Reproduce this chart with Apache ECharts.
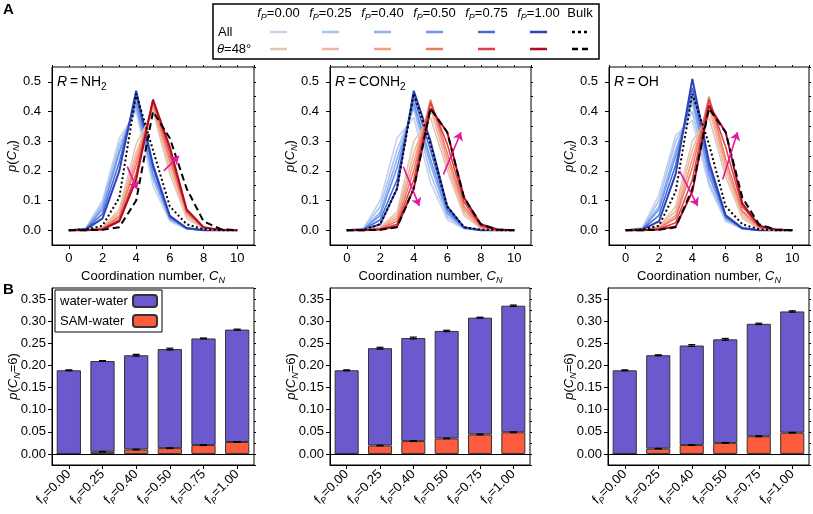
<!DOCTYPE html>
<html><head><meta charset="utf-8">
<script src="https://cdn.jsdelivr.net/npm/echarts@6/dist/echarts.min.js"></script>
<style>html,body{margin:0;padding:0;background:#fff}#c{width:813px;height:514px}</style>
</head><body><div id="c"></div>
<script>
// ---------------- DATA ----------------
const CN = [0,1,2,3,4,5,6,7,8,9,10];
const FP_LABELS = ['0.00','0.25','0.40','0.50','0.75','1.00'];
const BLUE = ['#c8d2ea','#a8c4f2','#8cb2ef','#6c97e9','#4a6bd8','#2c42bb'];
const RED  = ['#dcc8bb','#f4b59c','#f39f83','#eb7c62','#d8424a','#b20b25'];

// Panel A, R = NH2 (rows: fP = 0.00 .. 1.00)
const NH2_ALL = [
  [0,0.006,0.10,0.31,0.40,0.15,0.030,0.004,0,0,0],
  [0,0.005,0.09,0.29,0.41,0.17,0.035,0.005,0,0,0],
  [0,0.004,0.08,0.27,0.42,0.18,0.038,0.005,0,0,0],
  [0,0.004,0.07,0.26,0.43,0.19,0.040,0.006,0,0,0],
  [0,0.003,0.055,0.23,0.45,0.21,0.045,0.006,0,0,0],
  [0,0.002,0.04,0.20,0.47,0.22,0.048,0.007,0,0,0]
];
const NH2_THETA = [
  [0,0,0.010,0.07,0.29,0.40,0.19,0.040,0.005,0,0],
  [0,0,0.008,0.06,0.26,0.41,0.21,0.050,0.007,0,0],
  [0,0,0.006,0.05,0.24,0.42,0.23,0.055,0.008,0,0],
  [0,0,0.005,0.045,0.22,0.43,0.24,0.060,0.009,0,0],
  [0,0,0.003,0.035,0.19,0.44,0.26,0.065,0.010,0,0],
  [0,0,0.002,0.03,0.17,0.44,0.28,0.070,0.010,0.001,0]
];
const NH2_BULK_ALL   = [0,0.002,0.015,0.11,0.46,0.27,0.08,0.02,0.003,0,0];
const NH2_BULK_THETA = [0,0,0.001,0.01,0.10,0.40,0.31,0.14,0.03,0.004,0];

// Panel A, R = CONH2
const CONH2_ALL = [
  [0,0.006,0.10,0.31,0.38,0.16,0.035,0.005,0,0,0],
  [0,0.005,0.08,0.27,0.41,0.19,0.045,0.006,0,0,0],
  [0,0.004,0.06,0.24,0.42,0.22,0.055,0.007,0,0,0],
  [0,0.003,0.05,0.21,0.43,0.24,0.060,0.008,0,0,0],
  [0,0.002,0.035,0.17,0.45,0.27,0.070,0.009,0,0,0],
  [0,0.001,0.02,0.14,0.47,0.30,0.080,0.010,0,0,0]
];
const CONH2_THETA = [
  [0,0,0.010,0.06,0.30,0.38,0.20,0.050,0.006,0,0],
  [0,0,0.008,0.05,0.26,0.41,0.22,0.060,0.008,0,0],
  [0,0,0.006,0.04,0.23,0.43,0.24,0.070,0.010,0,0],
  [0,0,0.005,0.03,0.20,0.44,0.26,0.080,0.012,0,0],
  [0,0,0.003,0.02,0.17,0.43,0.29,0.095,0.015,0,0],
  [0,0,0.002,0.012,0.14,0.41,0.33,0.11,0.020,0.002,0]
];
const CONH2_BULK_ALL   = [0,0.001,0.02,0.14,0.46,0.29,0.08,0.01,0.002,0,0];
const CONH2_BULK_THETA = [0,0,0.001,0.01,0.14,0.41,0.33,0.11,0.02,0.002,0];

// Panel A, R = OH
const OH_ALL = [
  [0,0.008,0.12,0.32,0.37,0.15,0.030,0.004,0,0,0],
  [0,0.006,0.10,0.30,0.40,0.16,0.035,0.005,0,0,0],
  [0,0.005,0.08,0.27,0.43,0.18,0.040,0.005,0,0,0],
  [0,0.004,0.07,0.25,0.45,0.19,0.042,0.006,0,0,0],
  [0,0.003,0.05,0.22,0.48,0.21,0.046,0.006,0,0,0],
  [0,0.002,0.03,0.19,0.51,0.23,0.050,0.007,0,0,0]
];
const OH_THETA = [
  [0,0,0.012,0.08,0.30,0.38,0.18,0.040,0.005,0,0],
  [0,0,0.010,0.065,0.27,0.41,0.20,0.050,0.006,0,0],
  [0,0,0.008,0.05,0.24,0.43,0.22,0.060,0.008,0,0],
  [0,0,0.006,0.04,0.21,0.45,0.24,0.065,0.010,0,0],
  [0,0,0.004,0.025,0.17,0.44,0.28,0.080,0.013,0,0],
  [0,0,0.002,0.012,0.13,0.42,0.33,0.090,0.015,0.002,0]
];
const OH_BULK_ALL   = [0,0.002,0.015,0.13,0.46,0.29,0.08,0.02,0.003,0,0];
const OH_BULK_THETA = [0,0,0.001,0.01,0.14,0.41,0.33,0.11,0.02,0.002,0];

// trend arrows (data coordinates: [CN, p])
const ARROWS_NH2   = [[[3.47,0.214],[4.06,0.138]], [[5.64,0.200],[6.54,0.250]]];
const ARROWS_CONH2 = [[[3.38,0.214],[4.33,0.082]], [[5.77,0.188],[6.82,0.330]]];
const ARROWS_OH    = [[[3.23,0.200],[4.32,0.082]], [[5.82,0.171],[6.71,0.330]]];

// Panel B: p(CN=6) totals and SAM-water part
const TOTAL_NH2   = [0.189,0.210,0.223,0.237,0.261,0.281];
const SAM_NH2     = [0,0.005,0.010,0.013,0.020,0.027];
const ERRT_NH2    = [0.001,0.001,0.002,0.002,0.001,0.001];
const ERRS_NH2    = [0,0.0006,0.0006,0.0006,0.0008,0.0008];
const TOTAL_CONH2 = [0.189,0.239,0.262,0.278,0.308,0.335];
const SAM_CONH2   = [0,0.019,0.029,0.035,0.044,0.049];
const ERRT_CONH2  = [0.001,0.002,0.002,0.0015,0.001,0.0015];
const ERRS_CONH2  = [0,0.0006,0.0006,0.0006,0.0008,0.001];
const TOTAL_OH    = [0.189,0.223,0.245,0.259,0.294,0.322];
const SAM_OH      = [0,0.012,0.020,0.025,0.040,0.048];
const ERRT_OH     = [0.001,0.001,0.002,0.002,0.0015,0.0015];
const ERRS_OH     = [0,0.0006,0.0006,0.0006,0.001,0.0008];

// ---------------- BUILD ----------------
const FF = '"Liberation Sans", Arial, sans-serif';
const RICH = {
  n:{fontSize:13,fontFamily:FF,color:'#000',lineHeight:18,verticalAlign:'middle'},
  i:{fontSize:13,fontFamily:FF,fontStyle:'italic',color:'#000',lineHeight:18,verticalAlign:'middle'},
  s:{fontSize:9,fontFamily:FF,fontStyle:'italic',color:'#000',lineHeight:18,verticalAlign:'bottom'},
  u:{fontSize:9,fontFamily:FF,color:'#000',lineHeight:18,verticalAlign:'bottom'}
};
const PURPLE = '#6a5acd', SAMRED = '#fd5b3d';

const gridsA = [{left:52,width:202},{left:330,width:201},{left:609,width:200}];
const gridsB = [{left:52,width:202},{left:330,width:200},{left:608,width:201}];
const grid = [];
gridsA.forEach(g=>grid.push({left:g.left,width:g.width,top:67,height:178,show:true,borderColor:'#000',borderWidth:1}));
gridsB.forEach(g=>grid.push({left:g.left,width:g.width,top:288,height:177,show:true,borderColor:'#000',borderWidth:1}));

const xAxis = [], yAxis = [], xIdx = [], yIdx = [];
const AX = {color:'#000',width:1};
function addA(g){
  xIdx[g] = xAxis.length;
  xAxis.push({type:'value',gridIndex:g,min:-1,max:11,
    axisLine:{show:true,onZero:false,lineStyle:AX},
    axisTick:{show:true,customValues:[0,2,4,6,8,10],length:4,lineStyle:AX},
    axisLabel:{customValues:[0,2,4,6,8,10],fontSize:13,fontFamily:FF,color:'#000',margin:7},
    splitLine:{show:false},
    name:'{n|Coordination number, }{i|C}{s|N}',nameLocation:'middle',nameGap:22,nameMoveOverlap:false,
    nameTextStyle:{rich:RICH}});
  xAxis.push({type:'value',gridIndex:g,min:-1,max:11,interval:1,
    axisLine:{show:false,onZero:false},axisTick:{show:true,length:2,lineStyle:AX},
    axisLabel:{show:false},splitLine:{show:false}});
  yIdx[g] = yAxis.length;
  yAxis.push({type:'value',gridIndex:g,min:-0.05,max:0.55,
    axisLine:{show:true,onZero:false,lineStyle:AX},
    axisTick:{show:true,customValues:[0,0.1,0.2,0.3,0.4,0.5],length:4,lineStyle:AX},
    axisLabel:{customValues:[0,0.1,0.2,0.3,0.4,0.5],formatter:v=>v.toFixed(1),fontSize:13,fontFamily:FF,color:'#000',margin:11},
    splitLine:{show:false},
    name:'{i|p}{n|(}{i|C}{s|N}{n|)}',nameLocation:'middle',nameGap:31,nameRotate:90,nameMoveOverlap:false,
    nameTextStyle:{rich:RICH}});
  yAxis.push({type:'value',gridIndex:g,min:-0.05,max:0.55,interval:0.05,
    axisLine:{show:false,onZero:false},axisTick:{show:true,length:2,lineStyle:AX},
    axisLabel:{show:false},splitLine:{show:false}});
}
const B_MAJ = [0,0.05,0.1,0.15,0.2,0.25,0.3,0.35];
function addB(g){
  xIdx[g] = xAxis.length;
  xAxis.push({type:'category',gridIndex:g,data:FP_LABELS,
    axisLine:{show:true,onZero:false,lineStyle:AX},
    axisTick:{show:true,alignWithLabel:true,length:4,lineStyle:AX},
    axisLabel:{interval:0,rotate:45,margin:7,formatter:v=>'{n|f}{s|P}{n|='+v+'}',rich:RICH},
    splitLine:{show:false}});
  xAxis.push({type:'category',gridIndex:g,data:FP_LABELS,show:false});
  yIdx[g] = yAxis.length;
  yAxis.push({type:'value',gridIndex:g,min:-0.025,max:0.375,
    axisLine:{show:true,onZero:false,lineStyle:AX},
    axisTick:{show:true,customValues:B_MAJ,length:4,lineStyle:AX},
    axisLabel:{customValues:B_MAJ,formatter:v=>v.toFixed(2),fontSize:13,fontFamily:FF,color:'#000',margin:6},
    splitLine:{show:false},
    name:'{i|p}{n|(}{i|C}{s|N}{n|=6)}',nameLocation:'middle',nameGap:30,nameRotate:90,nameMoveOverlap:false,
    nameTextStyle:{rich:RICH}});
  yAxis.push({type:'value',gridIndex:g,min:-0.025,max:0.375,interval:0.025,
    axisLine:{show:false,onZero:false},axisTick:{show:true,length:2,lineStyle:AX},
    axisLabel:{show:false},splitLine:{show:false}});
}
[0,1,2].forEach(addA); [3,4,5].forEach(addB);

const series = [];
const panelsA = [
  {all:NH2_ALL,th:NH2_THETA,ba:NH2_BULK_ALL,bt:NH2_BULK_THETA,ar:ARROWS_NH2},
  {all:CONH2_ALL,th:CONH2_THETA,ba:CONH2_BULK_ALL,bt:CONH2_BULK_THETA,ar:ARROWS_CONH2},
  {all:OH_ALL,th:OH_THETA,ba:OH_BULK_ALL,bt:OH_BULK_THETA,ar:ARROWS_OH}
];
const pts = arr => CN.map((x,i)=>[x,arr[i]]);
panelsA.forEach((p,g)=>{
  const base = {type:'line',xAxisIndex:xIdx[g],yAxisIndex:yIdx[g],symbol:'none',silent:true};
  p.all.forEach((arr,k)=>series.push(Object.assign({},base,{name:'all'+g+k,data:pts(arr),z:2,lineStyle:{color:BLUE[k],width:k===5?2:1.6}})));
  p.th.forEach((arr,k)=>series.push(Object.assign({},base,{name:'th'+g+k,data:pts(arr),z:3,lineStyle:{color:RED[k],width:k===5?2:1.6}})));
  series.push(Object.assign({},base,{name:'bulkAll'+g,data:pts(p.ba),z:4,lineStyle:{color:'#000',width:2,type:[2,2.5]}}));
  series.push(Object.assign({},base,{name:'bulkTh'+g,data:pts(p.bt),z:4,lineStyle:{color:'#000',width:2,type:[7,4]}}));
  series.push({type:'lines',coordinateSystem:'cartesian2d',xAxisIndex:xIdx[g],yAxisIndex:yIdx[g],silent:true,z:6,
    symbol:['none','arrow'],symbolSize:[1,8],
    lineStyle:{color:'#e5179a',width:1.6,opacity:1},
    data:p.ar.map(a=>({coords:a}))});
});

const panelsB = [
  {tot:TOTAL_NH2,sam:SAM_NH2,et:ERRT_NH2,es:ERRS_NH2},
  {tot:TOTAL_CONH2,sam:SAM_CONH2,et:ERRT_CONH2,es:ERRS_CONH2},
  {tot:TOTAL_OH,sam:SAM_OH,et:ERRT_OH,es:ERRS_OH}
];
function errSeries(g,vals,errs){
  return {type:'custom',xAxisIndex:xIdx[g],yAxisIndex:yIdx[g],silent:true,z:10,
    data:vals.map((v,i)=>[i,v,errs[i]]).filter(d=>d[2]>0),
    renderItem:(params,api)=>{
      const x=api.value(0),y=api.value(1),e=api.value(2);
      const t=api.coord([x,y+e]), b=api.coord([x,y-e]);
      const w=3.5, st={stroke:'#000',lineWidth:1.2};
      return {type:'group',children:[
        {type:'line',shape:{x1:t[0],y1:t[1],x2:b[0],y2:b[1]},style:st},
        {type:'line',shape:{x1:t[0]-w,y1:t[1],x2:t[0]+w,y2:t[1]},style:st},
        {type:'line',shape:{x1:b[0]-w,y1:b[1],x2:b[0]+w,y2:b[1]},style:st}
      ]};
    }};
}
panelsB.forEach((p,j)=>{
  const g = j+3;
  series.push({type:'bar',name:'SAM-water',xAxisIndex:xIdx[g],yAxisIndex:yIdx[g],stack:'s'+g,barWidth:'72%',
    data:p.sam,itemStyle:{color:SAMRED,borderColor:'#333',borderWidth:1},silent:true});
  series.push({type:'bar',name:'water-water',xAxisIndex:xIdx[g],yAxisIndex:yIdx[g],stack:'s'+g,barWidth:'72%',
    data:p.tot.map((v,i)=>+(v-p.sam[i]).toFixed(4)),itemStyle:{color:PURPLE,borderColor:'#333',borderWidth:1},silent:true,
    markLine:{silent:true,symbol:'none',label:{show:false},lineStyle:{color:'#000',width:1,type:'solid'},data:[{yAxis:0}]}});
  series.push(errSeries(g,p.tot,p.et));
  series.push(errSeries(g,p.sam,p.es));
});

// ---- graphic: panel letters, R labels, top legend ----
const graphic = [];
graphic.push({type:'text',left:3,top:2,style:{text:'A',font:'bold 15px '+FF,fill:'#000'}});
graphic.push({type:'text',left:3,top:282,style:{text:'B',font:'bold 15px '+FF,fill:'#000'}});
const RLBL = ['{i|R}{n|\u2009=\u2009NH}{u|2}','{i|R}{n|\u2009=\u2009CONH}{u|2}','{i|R}{n|\u2009=\u2009OH}'];
const RICH14 = {
  n:{fontSize:14,fontFamily:FF,color:'#000',lineHeight:19,verticalAlign:'middle'},
  i:{fontSize:14,fontFamily:FF,fontStyle:'italic',color:'#000',lineHeight:19,verticalAlign:'middle'},
  u:{fontSize:10,fontFamily:FF,color:'#000',lineHeight:19,verticalAlign:'bottom'}
};
gridsA.forEach((g,k)=>graphic.push({type:'text',x:g.left+5,y:73,style:{text:RLBL[k],rich:RICH14}}));

const LEG_X = [278.5,330.5,382.5,434.5,486.5,538.5];
graphic.push({type:'rect',x:213,y:4,shape:{x:0,y:0,width:386,height:55},style:{fill:'#fff',stroke:'#000',lineWidth:1.5},z:100});
FP_LABELS.forEach((lab,k)=>{
  graphic.push({type:'text',x:LEG_X[k],y:13,z:101,style:{text:'{i|f}{s|P}{n|='+lab+'}',rich:RICH,align:'center',verticalAlign:'middle'}});
  graphic.push({type:'line',x:0,y:0,z:101,shape:{x1:LEG_X[k]-8.5,y1:32,x2:LEG_X[k]+8.5,y2:32},style:{stroke:BLUE[k],lineWidth:2.5}});
  graphic.push({type:'line',x:0,y:0,z:101,shape:{x1:LEG_X[k]-8.5,y1:49,x2:LEG_X[k]+8.5,y2:49},style:{stroke:RED[k],lineWidth:2.5}});
});
graphic.push({type:'text',x:580,y:13,z:101,style:{text:'{n|Bulk}',rich:RICH,align:'center',verticalAlign:'middle'}});
graphic.push({type:'line',x:0,y:0,z:101,shape:{x1:572,y1:32,x2:589,y2:32},style:{stroke:'#000',lineWidth:2.5,lineDash:[3,3]}});
graphic.push({type:'line',x:0,y:0,z:101,shape:{x1:572,y1:49,x2:589,y2:49},style:{stroke:'#000',lineWidth:2.5,lineDash:[6,4]}});
graphic.push({type:'text',x:218,y:32,z:101,style:{text:'{n|All}',rich:RICH,align:'left',verticalAlign:'middle'}});
graphic.push({type:'text',x:217,y:49,z:101,style:{text:'{i|θ}{n|=48°}',rich:RICH,align:'left',verticalAlign:'middle'}});

const chart = echarts.init(document.getElementById('c'),null,{renderer:'canvas'});
chart.setOption({
  animation:false,
  backgroundColor:'#fff',
  textStyle:{fontFamily:FF},
  grid, xAxis, yAxis, series, graphic,
  legend:{data:['water-water','SAM-water'],left:55,top:290,orient:'vertical',align:'right',
    itemWidth:24,itemHeight:12,itemGap:6,selectedMode:false,
    borderColor:'#000',borderWidth:1,backgroundColor:'#fff',padding:[4,4,4,5],
    formatter:name=>'{a|'+name+'}',
    textStyle:{fontSize:13,fontFamily:FF,color:'#000',
      rich:{a:{fontSize:13,fontFamily:FF,color:'#000',width:68,align:'left'}}}}
});
</script></body></html>
